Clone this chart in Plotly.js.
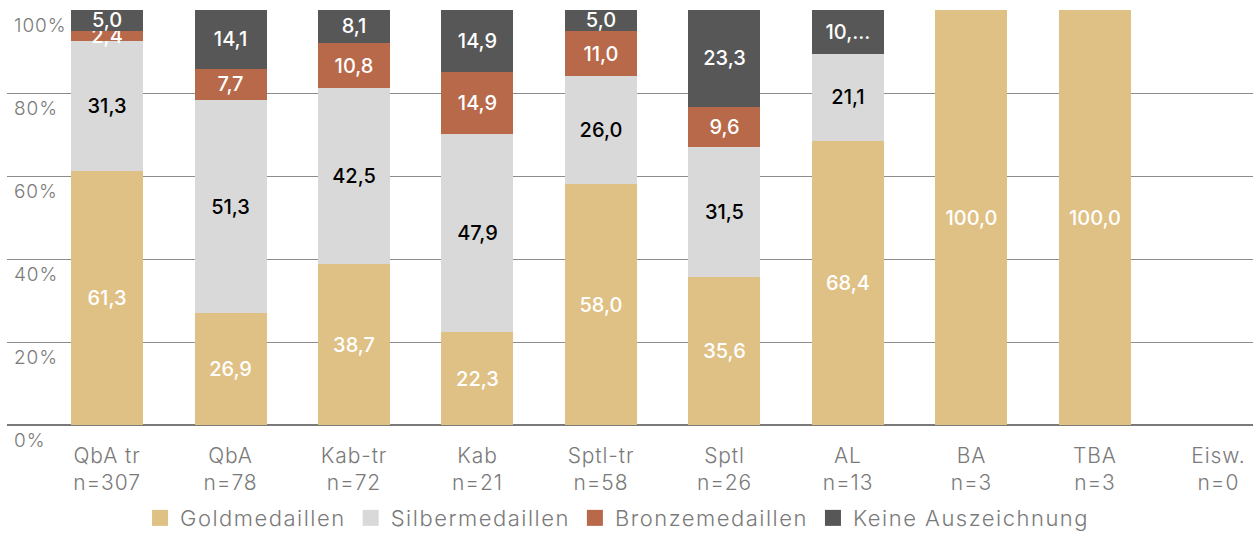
<!DOCTYPE html>
<html>
<head>
<meta charset="utf-8">
<script src="https://cdn.plot.ly/plotly-3.0.1.min.js"></script>
<style>
html,body{margin:0;padding:0;background:#fff;}
#chart{width:1253px;height:533px;}
.xtick text, .ytick text { letter-spacing: 0.9px; }
.legendtext { letter-spacing: 1.5px; }
</style>
</head>
<body>
<div id="chart"></div>
<script>
const categories = ["QbA tr", "QbA", "Kab-tr", "Kab", "Sptl-tr", "Sptl", "AL", "BA", "TBA", "Eisw."];
const counts = [307, 78, 72, 21, 58, 26, 13, 3, 3, 0];
const gold   = [61.3, 26.9, 38.7, 22.3, 58.0, 35.6, 68.4, 100.0, 100.0, null];
const silver = [31.3, 51.3, 42.5, 47.9, 26.0, 31.5, 21.1, null, null, null];
const bronze = [2.4, 7.7, 10.8, 14.9, 11.0, 9.6, null, null, null, null];
const none   = [5.0, 14.1, 8.1, 14.9, 5.0, 23.3, 10.5, null, null, null];
const seriesNames = ["Goldmedaillen", "Silbermedaillen", "Bronzemedaillen", "Keine Auszeichnung"];
const yTickVals = [0, 20, 40, 60, 80, 100];
const yTickText = ["0%", "20%", "40%", "60%", "80%", "100%"];
// labels that are cut off in the original chart
const truncatedLabels = {"Keine Auszeichnung|AL": "10,..."};

const colors = ["#E0C185", "#D9D9D9", "#B7694A", "#575757"];
const textColors = ["#ffffff", "#000000", "#ffffff", "#ffffff"];
const FONT = "Inter, 'Noto Sans', sans-serif";
const GREY = "#7a7a7a";

const xIdx = categories.map((c, i) => i);
const tickText = categories.map((c, i) => c + "<br>n=" + counts[i]);
const fmt = v => v == null ? "" : v.toFixed(1).replace(".", ",");

const traces = [gold, silver, bronze, none].map((vals, s) => ({
  type: "bar",
  name: seriesNames[s],
  x: xIdx,
  y: vals,
  text: vals.map((v, i) => truncatedLabels[seriesNames[s] + "|" + categories[i]] || fmt(v)),
  textposition: "inside",
  insidetextanchor: "middle",
  constraintext: "none",
  textangle: 0,
  textfont: {family: FONT, size: 20, color: textColors[s], weight: 500},
  marker: {color: colors[s], line: {width: 0}},
  showlegend: false,
  hoverinfo: "none"
}));

// legend-only entries with larger square swatches
seriesNames.forEach((n, s) => traces.push({
  type: "scatter", mode: "markers", name: n,
  x: [null], y: [null],
  marker: {symbol: "square", size: 18, color: colors[s]},
  showlegend: true, hoverinfo: "none"
}));

const layout = {
  width: 1253, height: 533,
  margin: {l: 7, r: 0, t: 10, b: 108},
  barmode: "stack",
  bargap: 0.417,
  paper_bgcolor: "#fff", plot_bgcolor: "#fff",
  font: {family: FONT, color: GREY, size: 20, weight: 300},
  xaxis: {
    tickmode: "array", tickvals: xIdx, ticktext: tickText,
    range: [-0.81, 9.28],
    showgrid: false, zeroline: false, showline: false, ticks: "",
    ticklabelstandoff: 16,
    automargin: false,
    tickfont: {family: FONT, size: 21, color: GREY, weight: 300}
  },
  yaxis: {
    range: [0, 100],
    tickmode: "array", tickvals: yTickVals, ticktext: yTickText,
    ticklabelposition: "inside",
    ticklabelshift: 15,
    ticklabelstandoff: 4,
    ticklabeloverflow: "allow",
    ticks: "",
    automargin: false,
    showgrid: true, gridcolor: "#8c8c8c", gridwidth: 1,
    zeroline: true, zerolinecolor: "#7a7a7a", zerolinewidth: 2,
    showline: false,
    tickfont: {family: FONT, size: 19, color: GREY, weight: 300}
  },
  showlegend: true,
  legend: {
    orientation: "h", x: 0.49, xanchor: "center",
    yref: "container", y: 0.028, yanchor: "middle",
    font: {family: FONT, size: 22, color: GREY, weight: 300},
    traceorder: "normal", itemclick: false
  }
};

Plotly.newPlot("chart", traces, layout, {staticPlot: true, displayModeBar: false});
</script>
</body>
</html>
